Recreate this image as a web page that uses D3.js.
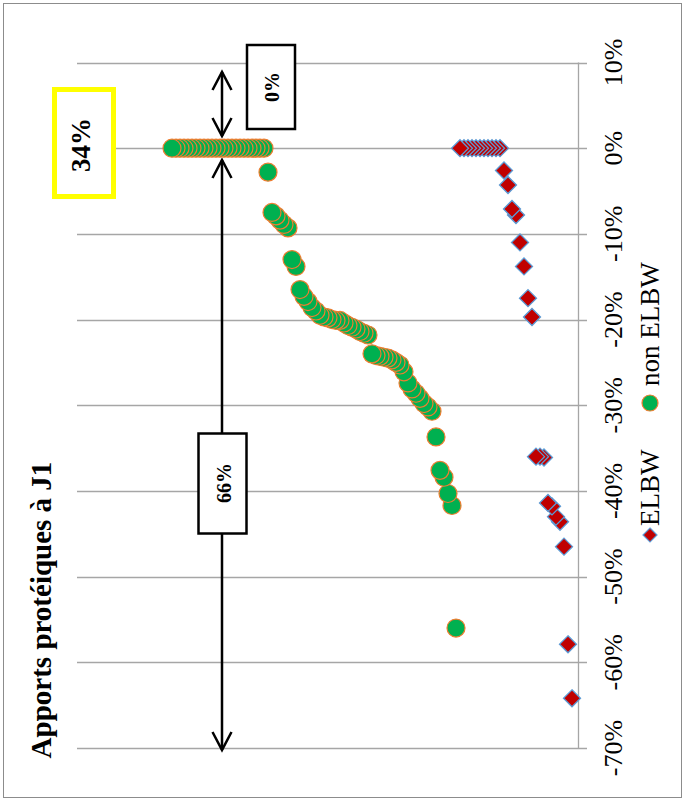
<!DOCTYPE html>
<html><head><meta charset="utf-8">
<script src="https://cdn.jsdelivr.net/npm/d3@7/dist/d3.min.js"></script>
<style>html,body{margin:0;padding:0;background:#fff}svg{display:block}</style>
</head><body>
<script>
// ---- data (percent) ----
const yTicks = [10, 0, -10, -20, -30, -40, -50, -60, -70];
const greenValues = [0,0,0,0,0,0,0,0,0,0,0,0,0,0,0,0,0,0,0,0,0,0,0,0,
  -2.8,-7.5,-7.9,-8.4,-8.9,-9.3,-13.0,-13.8,-16.5,-17.3,-17.9,-18.6,-19.0,-19.5,-19.7,-19.8,
  -20.0,-20.1,-20.1,-20.4,-20.7,-20.9,-21.1,-21.4,-21.6,-21.8,-24.0,-24.2,-24.3,-24.4,-24.5,
  -24.7,-25.0,-25.3,-26.1,-27.4,-28.1,-28.6,-29.2,-29.8,-30.2,-30.7,-33.7,-37.6,-38.4,-40.3,-41.7,-56.0];
const redValues = [0,0,0,0,0,0,0,0,0,0,0,
  -2.6,-4.3,-7.1,-7.8,-11.0,-13.8,-17.5,-19.7,-36.0,-36.0,-36.1,-41.4,-41.8,-43.0,-43.6,-46.5,-57.9,-64.2];
const seriesNames = ["ELBW", "non ELBW"];
const titleText = "Apports protéiques à J1";
const annotations = {zero: "0%", sixtySix: "66%", thirtyFour: "34%"};

const W = 685, H = 801;
const svg = d3.select("body").append("svg").attr("width", W).attr("height", H);

// outer frame
svg.append("rect").attr("x", 3.5).attr("y", 3.5).attr("width", W - 7).attr("height", H - 7)
  .attr("fill", "#fff").attr("stroke", "#8c8c8c").attr("stroke-width", 1);

const plotL = 77, plotR = 578;
const y = d3.scaleLinear().domain([10, -70]).range([62.5, 748]);
const nGreen = greenValues.length, nRed = redValues.length;
const x = d3.scaleLinear().domain([1, nGreen + nRed]).range([172, 572]);

const greenData = greenValues.map((v, i) => ({rank: i + 1, v}));
const redData = redValues.map((v, i) => ({rank: nGreen + i + 1, v}));

// gridlines
svg.append("g").selectAll("line").data(yTicks).join("line")
  .attr("x1", plotL).attr("x2", plotR + 9)
  .attr("y1", d => Math.round(y(d)) + 0.5).attr("y2", d => Math.round(y(d)) + 0.5)
  .attr("stroke", "#a6a6a6").attr("stroke-width", 1.3);
// axis line
svg.append("line").attr("x1", plotR + 0.5).attr("x2", plotR + 0.5)
  .attr("y1", y(10)).attr("y2", y(-70)).attr("stroke", "#a6a6a6").attr("stroke-width", 1.3);

// tick labels (rotated)
svg.append("g").selectAll("text").data(yTicks).join("text")
  .attr("transform", d => `translate(613,${y(d)}) rotate(-90)`)
  .attr("text-anchor", "middle").attr("dominant-baseline", "central")
  .attr("font-family", "Liberation Serif, Times New Roman, serif").attr("font-size", 26)
  .text(d => d + "%");

// title
svg.append("text").attr("transform", `translate(41,610) rotate(-90)`)
  .attr("text-anchor", "middle").attr("dominant-baseline", "central")
  .attr("font-family", "Liberation Serif, Times New Roman, serif").attr("font-size", 29)
  .attr("font-weight", "bold").text(titleText);

// arrows
function arrowHead(g, xx, yy, dir) {
  g.append("path").attr("d", `M${xx - 9.5},${yy - dir * 18}L${xx},${yy}L${xx + 9.5},${yy - dir * 18}`)
    .attr("fill", "none").attr("stroke", "#000").attr("stroke-width", 2.5);
}
const ax = 222;
const ag = svg.append("g");
ag.append("line").attr("x1", ax).attr("x2", ax).attr("y1", 72).attr("y2", 136).attr("stroke", "#000").attr("stroke-width", 2.5);
arrowHead(ag, ax, 72, -1); arrowHead(ag, ax, 136, 1);
ag.append("line").attr("x1", ax).attr("x2", ax).attr("y1", 160).attr("y2", 750).attr("stroke", "#000").attr("stroke-width", 2.5);
arrowHead(ag, ax, 160, -1); arrowHead(ag, ax, 750, 1);

// boxes
function box(x0, y0, w, h, stroke, sw, label, fs, cx, cy) {
  svg.append("rect").attr("x", x0).attr("y", y0).attr("width", w).attr("height", h)
    .attr("fill", "#fff").attr("stroke", stroke).attr("stroke-width", sw);
  svg.append("text").attr("transform", `translate(${cx},${cy}) rotate(-90)`)
    .attr("text-anchor", "middle").attr("dominant-baseline", "central")
    .attr("font-family", "Liberation Serif, Times New Roman, serif").attr("font-size", fs)
    .attr("font-weight", "bold").text(label);
}
box(247, 45, 48, 84, "#000", 2.5, annotations.zero, 20, 272, 87);
box(198.5, 433.5, 48, 100, "#000", 2.5, annotations.sixtySix, 20, 224, 483);
box(54.5, 89.5, 59, 107, "#ffff00", 5, annotations.thirtyFour, 27, 81, 145);

// points
const diamond = s => `M0,${-s}L${s},0L0,${s}L${-s},0Z`;
svg.append("g").selectAll("circle").data(greenData.slice().reverse()).join("circle")
  .attr("cx", d => x(d.rank)).attr("cy", d => y(d.v)).attr("r", 9)
  .attr("fill", "#00b050").attr("stroke", "#ed7d31").attr("stroke-width", 1.2);
svg.append("g").selectAll("path").data(redData.slice().reverse()).join("path")
  .attr("transform", d => `translate(${x(d.rank)},${y(d.v)})`)
  .attr("d", diamond(8.5))
  .attr("fill", "#c00000").attr("stroke", "#5b9bd5").attr("stroke-width", 1.3);

// legend (rotated)
const lg = svg.append("g");
lg.append("path").attr("transform", "translate(650,535)").attr("d", diamond(7))
  .attr("fill", "#c00000").attr("stroke", "#5b9bd5").attr("stroke-width", 1.2);
lg.append("text").attr("transform", "translate(650,526) rotate(-90)")
  .attr("dominant-baseline", "central").attr("font-family", "Liberation Serif, Times New Roman, serif")
  .attr("font-size", 27).text(seriesNames[0]);
lg.append("circle").attr("cx", 650).attr("cy", 403).attr("r", 8)
  .attr("fill", "#00b050").attr("stroke", "#ed7d31").attr("stroke-width", 1.2);
lg.append("text").attr("transform", "translate(650,386) rotate(-90)")
  .attr("dominant-baseline", "central").attr("font-family", "Liberation Serif, Times New Roman, serif")
  .attr("font-size", 27).text(seriesNames[1]);
</script>
</body></html>
